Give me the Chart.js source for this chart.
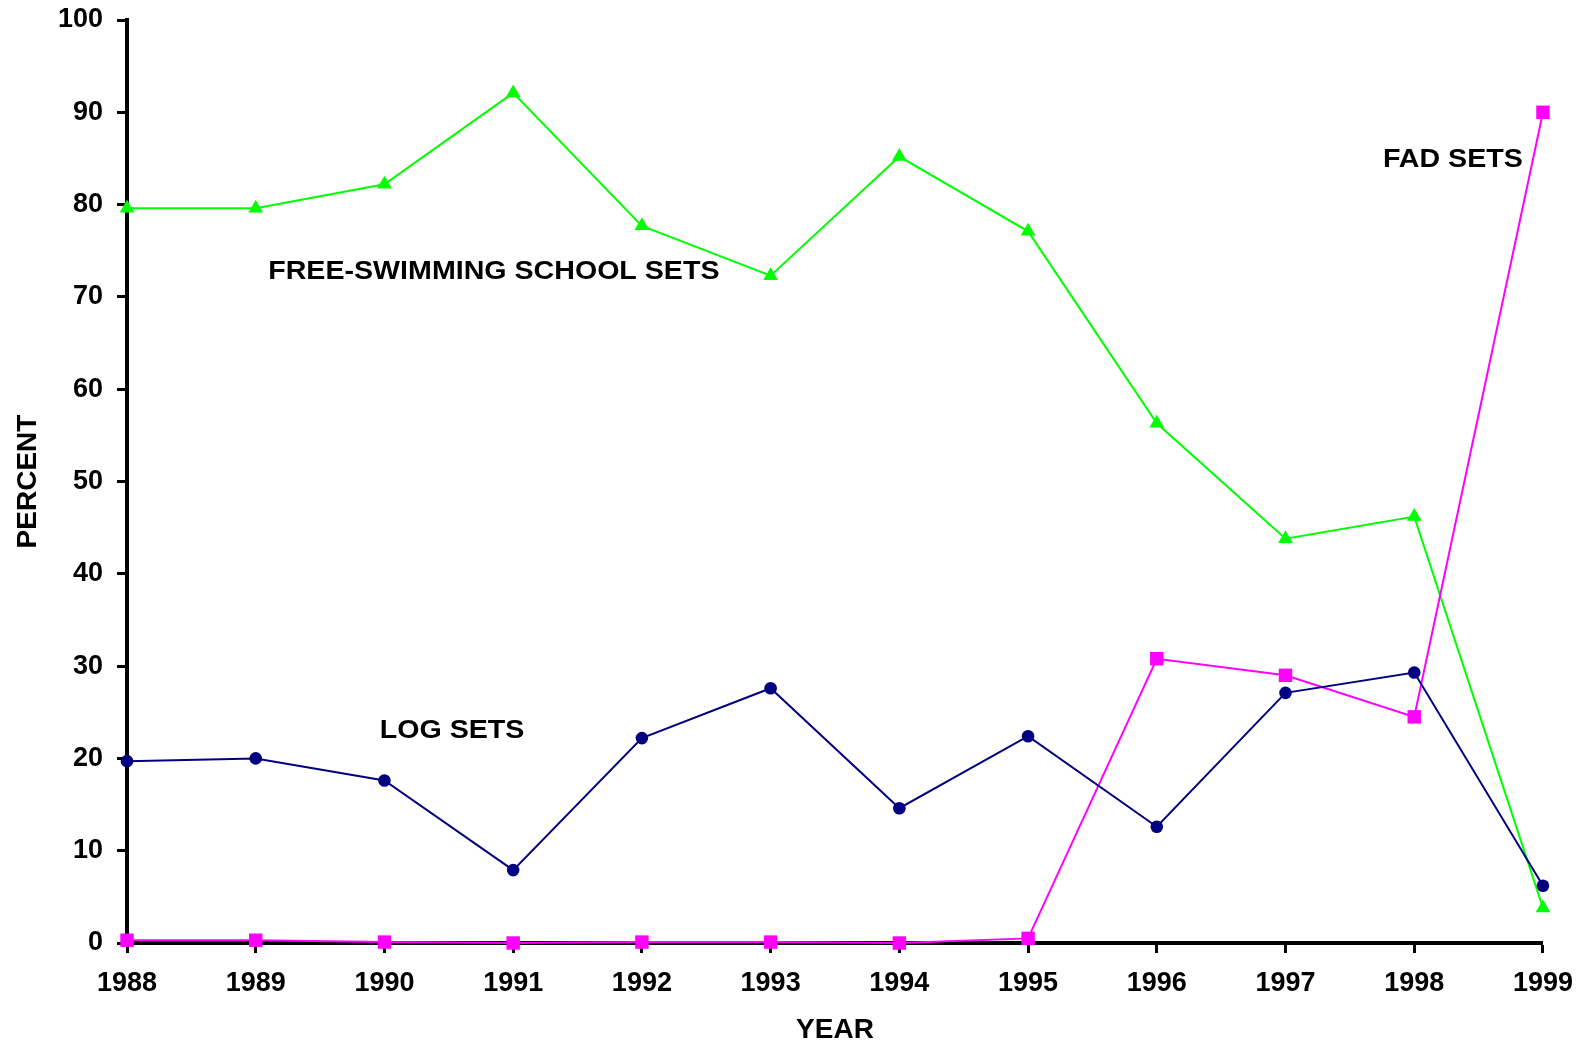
<!DOCTYPE html>
<html>
<head>
<meta charset="utf-8">
<script src="https://cdn.jsdelivr.net/npm/chart.js@4/dist/chart.umd.min.js"></script>
<style>
html,body{margin:0;padding:0;background:#fff;}
#wrap{width:1587px;height:1047px;position:relative;}
</style>
</head>
<body>
<div id="wrap"><canvas id="c" width="1587" height="1047"></canvas></div>
<script>
const years = ['1988','1989','1990','1991','1992','1993','1994','1995','1996','1997','1998','1999'];
const freeSwimming = [79.6, 79.6, 82.2, 92.1, 77.7, 72.3, 85.2, 77.1, 56.3, 43.8, 46.2, 3.8];
const logSets = [19.7, 20.0, 17.6, 7.9, 22.2, 27.6, 14.6, 22.4, 12.6, 27.1, 29.3, 6.2];
const fadSets = [0.3, 0.3, 0.1, 0.0, 0.1, 0.1, 0.0, 0.5, 30.8, 29.0, 24.5, 90.0];
const yTicks = [0, 10, 20, 30, 40, 50, 60, 70, 80, 90, 100];
// in-chart labels, anchored in data space: [text, x (category index), y (percent)]
const seriesLabels = [
  ['FREE-SWIMMING SCHOOL SETS', 2.85, 72.75],
  ['LOG SETS', 2.525, 23.0],
  ['FAD SETS', 10.30, 84.8]
];

const FONT = '"Liberation Sans", Arial, Helvetica, sans-serif';

const labelPlugin = {
  id: 'seriesLabels',
  afterDatasetsDraw(chart) {
    const ctx = chart.ctx;
    const xs = chart.scales.x, ys = chart.scales.y;
    seriesLabels.forEach(([t, xv, yv]) => {
      ctx.save();
      ctx.translate(xs.getPixelForValue(xv), ys.getPixelForValue(yv));
      ctx.scale(1.1, 1);
      ctx.font = 'bold 26px ' + FONT;
      ctx.fillStyle = '#000';
      ctx.textAlign = 'center';
      ctx.textBaseline = 'middle';
      ctx.fillText(t, 0, 0);
      ctx.restore();
    });
  }
};

new Chart(document.getElementById('c'), {
  type: 'line',
  data: {
    labels: years,
    datasets: [
      {
        label: 'LOG SETS',
        data: logSets,
        borderColor: '#000080',
        backgroundColor: '#000080',
        borderWidth: 2,
        pointStyle: 'circle',
        pointRadius: 6.3,
        pointBorderWidth: 0,
        tension: 0,
        clip: false
      },
      {
        label: 'FAD SETS',
        data: fadSets,
        borderColor: '#FF00FF',
        backgroundColor: '#FF00FF',
        borderWidth: 2,
        pointStyle: 'rect',
        pointRadius: 9.5,
        pointBorderWidth: 0,
        tension: 0,
        clip: false
      },
      {
        label: 'FREE-SWIMMING SCHOOL SETS',
        data: freeSwimming,
        borderColor: '#00FF00',
        backgroundColor: '#00FF00',
        borderWidth: 2,
        pointStyle: 'triangle',
        pointRadius: 8.5,
        pointBorderWidth: 0,
        tension: 0,
        clip: false
      }
    ]
  },
  options: {
    responsive: false,
    animation: false,
    devicePixelRatio: 1,
    layout: { padding: { top: 20, right: 44, left: 0, bottom: 0 } },
    plugins: { legend: { display: false }, tooltip: { enabled: false } },
    scales: {
      x: {
        type: 'category',
        offset: false,
        grid: { display: true, drawOnChartArea: false, drawTicks: true, tickLength: 10, tickWidth: 3, tickColor: '#000' },
        border: { display: true, color: '#000', width: 4 },
        ticks: { color: '#000', font: { family: FONT, size: 27, weight: 'bold' }, padding: 14, maxRotation: 0, autoSkip: false },
        title: { display: true, text: 'YEAR', color: '#000', font: { family: FONT, size: 28, weight: 'bold' }, padding: { top: 0, bottom: 0 } },
        afterFit(s) { s.height = 104; }
      },
      y: {
        type: 'linear',
        min: 0,
        max: 100,
        afterBuildTicks(s) { s.ticks = yTicks.map(v => ({ value: v })); },
        grid: { display: true, drawOnChartArea: false, drawTicks: true, tickLength: 10, tickWidth: 3, tickColor: '#000' },
        border: { display: true, color: '#000', width: 4 },
        ticks: { color: '#000', font: { family: FONT, size: 27, weight: 'bold' }, padding: 14 },
        title: { display: true, text: 'PERCENT', color: '#000', font: { family: FONT, size: 28, weight: 'bold' }, padding: { top: 11, bottom: 0 } },
        afterFit(s) { s.width = 127; s.paddingTop = 0; s.paddingBottom = 0; }
      }
    }
  },
  plugins: [labelPlugin]
});
</script>
</body>
</html>
